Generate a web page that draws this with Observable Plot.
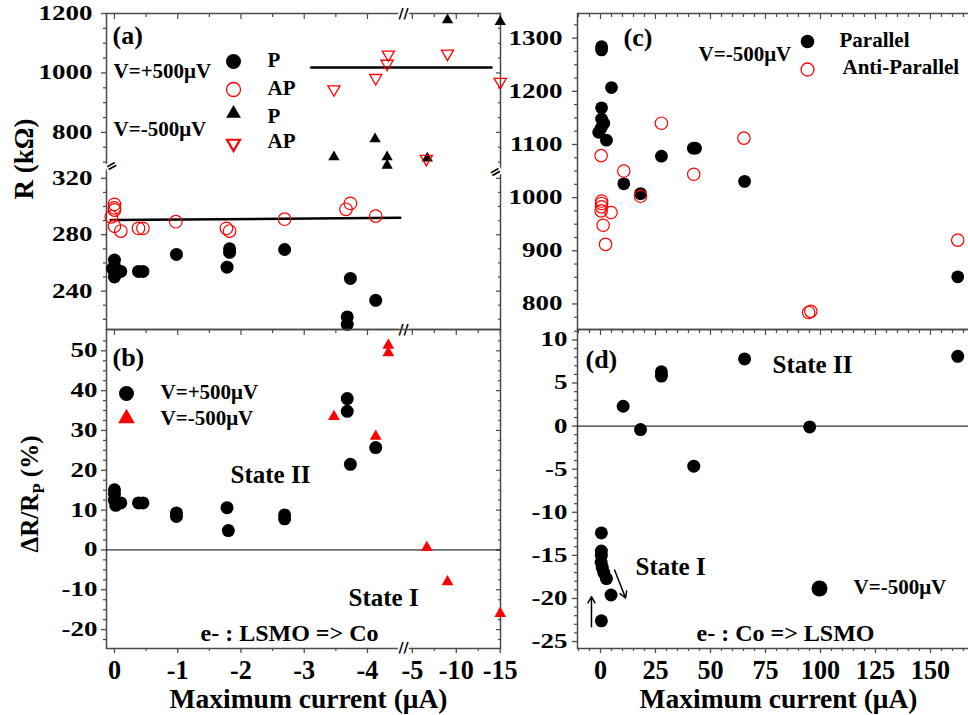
<!DOCTYPE html>
<html><head><meta charset="utf-8">
<script src="https://cdn.jsdelivr.net/npm/d3@7"></script>
<script src="https://cdn.jsdelivr.net/npm/@observablehq/plot@0.6"></script>
<style>
html,body{margin:0;padding:0;background:#fff;}
#wrap{position:relative;width:968px;height:715px;overflow:hidden;background:#fff;}
#wrap svg{position:absolute;left:0;top:0;}
</style></head><body><div id="wrap"></div>
<script>
// ---------------- data ----------------
// (a) R (kΩ), V=+500µV, parallel / antiparallel
const aPosP_I  = [0, 0, -0.02, 0, 0.03, -0.1, -0.38, -0.45, -0.98, -1.78, -1.82, -1.82, -2.69, -3.73, -3.68, -3.68, -4.13];
const aPosP_R  = [262, 258, 254, 250, 256, 254, 254, 254, 266, 257, 270, 267.5, 269.5, 249, 221.7, 216.5, 233.5];
const aPosAP_I = [0, 0, 0, 0.05, 0, -0.1, -0.38, -0.45, -0.97, -1.77, -1.82, -2.69, -3.66, -3.73, -4.13];
const aPosAP_R = [301.5, 299, 297.5, 292.7, 286, 282.6, 284.5, 284.5, 289.2, 284.5, 282.6, 291, 298, 302.2, 293.2];
// (a) V=-500µV
const aNegP_I  = [-3.47, -4.12, -4.31, -4.31, -6.7, -9.0, -15];
const aNegP_R  = [717, 778, 717, 689, 713, 1178, 1172];
const aNegAP_I = [-3.47, -4.13, -4.31, -4.33, -6.6, -9.0, -15];
const aNegAP_R = [945, 983, 1031, 1062, 711, 1065, 970];
// (a) guide lines
const fitLow_I  = [0.06, -4.52], fitLow_R  = [290.4, 292.0];
const fitHigh_I = [-3.11, -14],  fitHigh_R = [1018, 1018];
// (b) ΔR/Rp (%)
const bPos_I  = [0, 0, 0, -0.02, -0.1, -0.38, -0.45, -0.98, -0.98, -1.78, -1.8, -2.69, -2.69, -3.68, -3.68, -3.73, -4.13];
const bPos_dR = [15.1, 14.1, 12.5, 11.2, 11.8, 11.8, 11.8, 9.3, 8.4, 10.6, 4.85, 8.8, 7.8, 38, 34.8, 21.5, 25.7];
const bNeg_I  = [-3.47, -4.13, -4.33, -4.33, -6.65, -9.0, -15];
const bNeg_dR = [33.5, 28.5, 51.4, 49.5, 0.6, -8, -16];
// (c) R (kΩ), V=-500µV
const cP_I  = [0.5, 0.5, 5, 0.5, 0.5, 1.5, -0.8, 0.3, 2.7, 10.6, 18.2, 27.7, 42.2, 43.2, 65.5, 162.4];
const cP_R  = [1284, 1278, 1207, 1169, 1148, 1140, 1123, 1131, 1108, 1026, 1007.5, 1078, 1093, 1093, 1030.6, 851];
const cAP_I = [0.3, 10.6, 27.7, 42.4, 65.2, 18.2, 0.5, 0.5, 0.5, 0.3, 4.8, 1.2, 2.3, 94.6, 95.6, 162.4];
const cAP_R = [1079, 1050, 1140, 1044, 1112, 1002.5, 993.6, 989, 982.6, 975, 972, 948, 912, 784, 786, 920];
// (d) ΔR/Rp (%)
const d_I  = [0.4, 0.4, 0.4, 0.3, 0.8, 1.5, 2.7, 4.8, 0.4, 10.3, 18.2, 27.7, 27.7, 42.4, 65.5, 95.1, 162.4];
const d_dR = [-12.4, -14.5, -15.0, -15.8, -16.4, -17.0, -17.7, -19.6, -22.6, 2.3, -0.4, 6.3, 5.8, -4.65, 7.8, -0.1, 8.1];
// (d) arrows
const arrX1 = [-4.1, 6.4], arrY1 = [-23.3, -16.7], arrX2 = [-4.1, 11.4], arrY2 = [-19.8, -19.95];
// ticks
const xLeftMajor = [0, -1, -2, -3, -4, -5, -10, -15];
const xLeftMinor = [-0.5, -1.5, -2.5, -3.5, -7.5, -12.5];
const yAMajor = [240, 280, 320, 800, 1000, 1200];
const yAMinor = [220, 230, 250, 260, 270, 290, 300, 310, 700, 750, 850, 900, 950, 1050, 1100, 1150];
const yBMajor = [-20, -10, 0, 10, 20, 30, 40, 50];
const yBMinor = d3.range(-22.5, 55, 2.5).filter(v => v % 10 !== 0);
const xRMajor = [0, 25, 50, 75, 100, 125, 150];
const xRMinor = d3.range(-10, 170, 5).filter(v => v % 25 !== 0);
const yCMajor = [800, 900, 1000, 1100, 1200, 1300];
const yCMinor = d3.range(775, 1350, 25).filter(v => v % 100 !== 0);
const yDMajor = [-25, -20, -15, -10, -5, 0, 5, 10];
const yDMinor = d3.range(-25, 12, 1).filter(v => v % 5 !== 0);

// ---------------- broken-axis mappings ----------------
const X_BREAK = 4.57, X_K2 = 0.139;          // left panels: current axis break
const uI = v => (-v <= X_BREAK ? -v : X_BREAK + (-v - 4) * X_K2);
const Y_LO = 326.6, Y_HI = 677, Y_K2 = 0.2107; // panel (a): resistance axis break
const uR = v => (v <= Y_LO ? v : Y_LO + (v - Y_HI) * Y_K2);
const id = v => v;

// ---------------- helpers ----------------
const FONT = "'Liberation Serif','Times New Roman',serif";
const AX = "#4a4a4a", RED = "#ff0000";
const sq3 = Math.sqrt(3);
const triUp = {draw(c, s) { const y = -Math.sqrt(s / (sq3 * 3)); c.moveTo(0, y * 2); c.lineTo(-sq3 * y, -y); c.lineTo(sq3 * y, -y); c.closePath(); }};
const triDown = {draw(c, s) { const y = Math.sqrt(s / (sq3 * 3)); c.moveTo(0, y * 2); c.lineTo(-sq3 * y, -y); c.lineTo(sq3 * y, -y); c.closePath(); }};
const pts = (xs, ys) => xs.map((x, i) => ({x, y: ys[i]}));
const txt = {fontFamily: FONT, fontWeight: "bold", fill: "black"};

function yLeft(vals, f, pad) {
  const m = new Map(vals.map(v => [f(v), String(v)]));
  return Plot.axisY(vals.map(f), {anchor: "left", tickSize: 5, tickPadding: pad, tickFormat: u => m.get(u), fontSize: 20, ...txt, stroke: AX, strokeWidth: 1.3, label: null});
}
const yLeftMinor = (vals, f) => Plot.axisY(vals.map(f), {anchor: "left", tickSize: 3, tickFormat: () => "", stroke: AX, strokeWidth: 1.2, label: null});
const yRightIn = (vals, f, s) => Plot.axisY(vals.map(f), {anchor: "right", tickSize: s, dx: -s, tickFormat: () => "", stroke: AX, strokeWidth: 1.2, label: null});
const xTopIn = (vals, f, s) => Plot.axisX(vals.map(f), {anchor: "top", tickSize: s, dy: s, tickFormat: () => "", stroke: AX, strokeWidth: 1.2, label: null});
function xBottom(vals, f) {
  const m = new Map(vals.map(v => [f(v), String(v)]));
  return Plot.axisX(vals.map(f), {anchor: "bottom", tickSize: 5, tickPadding: 6, tickFormat: u => m.get(u), fontSize: 27, ...txt, stroke: AX, strokeWidth: 1.3, label: null});
}
const xBottomMinor = (vals, f) => Plot.axisX(vals.map(f), {anchor: "bottom", tickSize: 3, tickFormat: () => "", stroke: AX, strokeWidth: 1.2, label: null});
const note = (t, dx, dy, size) => Plot.text([t], {text: d => d, frameAnchor: "top-left", dx, dy, textAnchor: "start", lineAnchor: "bottom", fontSize: size, ...txt});
const sym = (dx, dy, o) => Plot.dot([0], {frameAnchor: "top-left", dx, dy, ...o});
const brk = (o, t, rot) => Plot.text([t], {text: d => d, ...o, rotate: rot, fontSize: 14, fontFamily: "DejaVu Sans", fill: "black", stroke: "white", strokeWidth: 4, lineAnchor: "middle"});
const xTitle = dx => Plot.text(["Maximum current (μA)"], {text: d => d, frameAnchor: "bottom", dx, dy: 59, lineAnchor: "bottom", fontSize: 27.5, ...txt});

function panel({W = 968, L, T, R, B, xd, yd, marks}) {
  return Plot.plot({
    width: W, height: 715,
    marginLeft: L, marginTop: T, marginRight: W - R, marginBottom: 715 - B,
    x: {type: "linear", domain: xd, axis: null},
    y: {type: "linear", domain: yd, axis: null},
    style: {background: "transparent", maxWidth: "none", overflow: "visible", fontFamily: FONT, fontWeight: "bold", color: "black"},
    marks
  });
}
const frame = () => Plot.frame({stroke: AX, strokeWidth: 1.5});
const xLD = [-0.126, 6.103];

// ---------------- panel (a) ----------------
const plotA = panel({L: 106, T: 13, R: 500, B: 329, xd: xLD, yd: [212.8, 436.8], marks: [
  frame(),
  yLeft(yAMajor, uR, 9), yLeftMinor(yAMinor, uR),
  yRightIn(yAMajor, uR, 5), yRightIn(yAMinor, uR, 3),
  xTopIn(xLeftMajor, uI, 5), xTopIn(xLeftMinor, uI, 3),
  Plot.line(pts(fitLow_I, fitLow_R), {x: d => uI(d.x), y: d => uR(d.y), stroke: "black", strokeWidth: 2.5}),
  Plot.line(pts(fitHigh_I, fitHigh_R), {x: d => uI(d.x), y: d => uR(d.y), stroke: "black", strokeWidth: 2.5}),
  Plot.dot(pts(aPosP_I, aPosP_R), {x: d => uI(d.x), y: d => uR(d.y), r: 6.5, fill: "black"}),
  Plot.dot(pts(aPosAP_I, aPosAP_R), {x: d => uI(d.x), y: d => uR(d.y), r: 6.3, fill: "none", stroke: RED, strokeWidth: 1.2}),
  Plot.dot(pts(aNegP_I, aNegP_R), {x: d => uI(d.x), y: d => uR(d.y), r: 4.2, symbol: triUp, fill: "black"}),
  Plot.dot(pts(aNegAP_I, aNegAP_R), {x: d => uI(d.x), y: d => uR(d.y), r: 4.5, symbol: triDown, fill: "none", stroke: RED, strokeWidth: 1.3}),
  brk({x: X_BREAK, frameAnchor: "top"}, "//", 0),
  brk({x: X_BREAK, frameAnchor: "bottom"}, "//", 0),
  brk({y: Y_LO, frameAnchor: "left"}, "=", -30),
  brk({y: Y_LO, frameAnchor: "right"}, "=", -30),
  note("(a)", 6, 30, 26),
  note("V=+500μV", 7, 64, 21),
  note("V=-500μV", 7, 122, 21),
  sym(127, 48, {r: 7.5, fill: "black"}),
  sym(127, 76, {r: 7, fill: "none", stroke: RED, strokeWidth: 1.3}),
  sym(127, 100, {r: 5.5, symbol: triUp, fill: "black"}),
  sym(127, 130, {r: 4.8, symbol: triDown, fill: "none", stroke: RED, strokeWidth: 2.2}),
  note("P", 161, 53, 21), note("AP", 161, 81, 21),
  note("P", 161, 109, 21), note("AP", 161, 134, 21)
]});

// ---------------- panel (b) ----------------
const plotB = panel({L: 106, T: 329, R: 500, B: 648, xd: xLD, yd: [-24.75, 55.35], marks: [
  frame(),
  yLeft(yBMajor, id, 4), yLeftMinor(yBMinor, id),
  yRightIn(yBMajor, id, 5), yRightIn(yBMinor, id, 3),
  xTopIn(xLeftMajor, uI, 5), xTopIn(xLeftMinor, uI, 3),
  xBottom(xLeftMajor, uI), xBottomMinor(xLeftMinor, uI),
  Plot.ruleY([0], {stroke: "black", strokeWidth: 1}),
  Plot.dot(pts(bPos_I, bPos_dR), {x: d => uI(d.x), y: "y", r: 6.5, fill: "black"}),
  Plot.dot(pts(bNeg_I, bNeg_dR), {x: d => uI(d.x), y: "y", r: 4.4, symbol: triUp, fill: RED}),
  brk({x: X_BREAK, frameAnchor: "bottom", dy: -1}, "//", 0),
  note("(b)", 6, 36, 26),
  sym(20, 64, {r: 7.5, fill: "black"}),
  sym(20, 89, {r: 6.2, symbol: triUp, fill: RED}),
  note("V=+500μV", 54, 69, 21),
  note("V=-500μV", 54, 95, 21),
  note("State II", 124, 153, 25),
  note("State I", 242, 276, 25),
  note("e- : LSMO => Co", 94, 311, 24),
  xTitle(5)
]});

// ---------------- panel (c) ----------------
const xRD = [-10.45, 168.2];
const plotC = panel({W: 970, L: 577, T: 13, R: 970, B: 329, xd: xRD, yd: [751.9, 1346.4], marks: [
  frame(),
  yLeft(yCMajor, id, 10), yLeftMinor(yCMinor, id),
  xTopIn(xRMajor, id, 5), xTopIn(xRMinor, id, 3),
  Plot.dot(pts(cP_I, cP_R), {x: "x", y: "y", r: 6.4, fill: "black"}),
  Plot.dot(pts(cAP_I, cAP_R), {x: "x", y: "y", r: 6.2, fill: "none", stroke: RED, strokeWidth: 1.2}),
  note("(c)", 46, 32, 26),
  note("V=-500μV", 121, 47, 21),
  sym(230, 28, {r: 6.8, fill: "black"}),
  sym(230, 56, {r: 6.5, fill: "none", stroke: RED, strokeWidth: 1.3}),
  note("Parallel", 262, 33, 21),
  note("Anti-Parallel", 265, 60, 21)
]});

// ---------------- panel (d) ----------------
const plotD = panel({W: 970, L: 577, T: 329, R: 970, B: 648, xd: xRD, yd: [-25.81, 11.21], marks: [
  frame(),
  yLeft(yDMajor, id, 5), yLeftMinor(yDMinor, id),
  xTopIn(xRMajor, id, 5), xTopIn(xRMinor, id, 3),
  xBottom(xRMajor, id), xBottomMinor(xRMinor, id),
  Plot.ruleY([0], {stroke: "black", strokeWidth: 1}),
  Plot.dot(pts(d_I, d_dR), {x: "x", y: "y", r: 6.5, fill: "black"}),
  Plot.arrow(arrX1.map((x, i) => ({x1: x, y1: arrY1[i], x2: arrX2[i], y2: arrY2[i]})), {x1: "x1", y1: "y1", x2: "x2", y2: "y2", stroke: "black", strokeWidth: 1.5, headLength: 7}),
  note("(d)", 8, 38, 26),
  note("State II", 195, 43, 25),
  note("State I", 58, 245, 25),
  sym(242, 259, {r: 8, fill: "black"}),
  note("V=-500μV", 276, 264, 21),
  note("e- : Co => LSMO", 119, 311, 24),
  xTitle(4.5)
]});

const wrap = document.getElementById("wrap");
[plotA, plotB, plotC, plotD].forEach(p => wrap.appendChild(p));

// y-axis titles
const ov = d3.create("svg").attr("width", 968).attr("height", 715)
  .style("font-family", FONT).style("font-weight", "bold").style("white-space", "pre");
ov.append("text").attr("transform", "translate(33,159) rotate(-90)").attr("text-anchor", "middle")
  .attr("font-size", 27).text("R (kΩ)");
const tb = ov.append("text").attr("transform", "translate(38,494) rotate(-90)").attr("text-anchor", "middle").attr("font-size", 25);
tb.append("tspan").text("ΔR/R");
tb.append("tspan").attr("font-size", 17).attr("dy", 6).text("P");
tb.append("tspan").attr("dy", -6).text(" (%)");
wrap.appendChild(ov.node());

// tick-label proportions (wide y labels, narrow x labels)
function stretch(sel, f) {
  wrap.querySelectorAll(sel).forEach(t => {
    if (!t.textContent) return;
    const w = t.getComputedTextLength();
    if (w > 0) { t.setAttribute("textLength", w * f); t.setAttribute("lengthAdjust", "spacingAndGlyphs"); }
  });
}
stretch('g[aria-label="y-axis tick label"] text', 1.35);
stretch('g[aria-label="x-axis tick label"] text', 0.97);
</script></body></html>
